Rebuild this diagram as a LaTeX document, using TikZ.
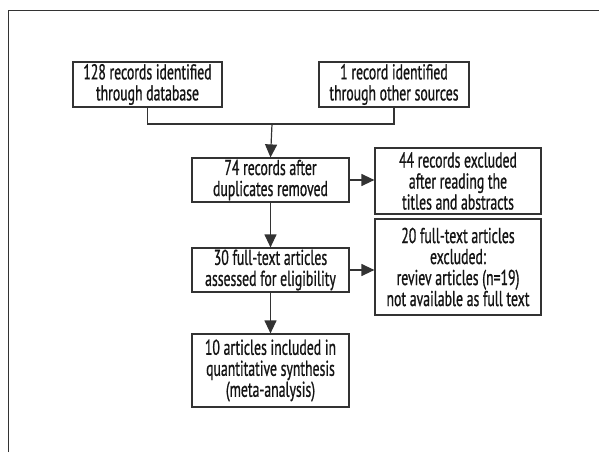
\documentclass[tikz,border=0pt]{standalone}
\usepackage{fontspec}
\setmainfont{PT Sans}[FakeStretch=0.64,FakeBold=0.8]
\definecolor{flowline}{RGB}{51,51,51}
\definecolor{flowtext}{RGB}{20,20,20}
\usetikzlibrary{arrows.meta,positioning}
\tikzset{
  stagebox/.style={draw=flowline, line width=1.2pt, align=center, inner sep=0pt,
    text=flowtext, font=\fontsize{21.5}{21}\selectfont},
  flowarrow/.style={-{Triangle[length=13pt,width=12pt]}, line width=1.2pt, flowline}
}

\begin{document}
\begin{tikzpicture}[x=1pt,y=-1pt]
  \useasboundingbox (0,0) rectangle (599,452);

  %--- page frame ---
  \draw[flowline, line width=1pt] (8,452) -- (8,11) -- (599,11);

  %--- identification ---
  \node[stagebox, minimum width=149pt, minimum height=45pt] (dbrec) at (147.5,84.5) {128 records identified\\through database};
  \node[stagebox, minimum width=150pt, minimum height=45pt] (otherrec) at (394,84.5) {1 record identified\\through other sources};
  \coordinate (merge) at (272,124);

  %--- screening ---
  \node[stagebox, minimum width=157pt, minimum height=44pt] (dedup) at (270.5,180) {74 records after\\duplicates removed};
  \node[stagebox, minimum width=166pt, minimum height=66pt] (excl1) at (458,181) {44 records excluded\\after reading the\\titles and abstracts};

  %--- eligibility ---
  \node[stagebox, minimum width=157pt, minimum height=44pt] (fulltext) at (270.5,270) {30 full-text articles\\assessed for eligibility};
  \node[stagebox, minimum width=166pt, minimum height=96pt] (excl2) at (458,267) {20 full-text articles\\excluded:\\reviev articles (n=19)\\not available as full text};

  %--- included ---
  \node[stagebox, minimum width=157pt, minimum height=73pt] (incl) at (270.5,370.5) {10 articles included in\\quantitative synthesis\\(meta-analysis)};

  \draw[flowline, line width=1.2pt] (dbrec.south) |- (merge) -| (otherrec.south);
  \draw[flowarrow] (merge) -- (dedup.north);
  \draw[flowarrow] (dedup.east) -- (excl1.west |- dedup.east);
  \draw[flowarrow] (dedup.south) -- (fulltext.north);
  \draw[flowarrow] (fulltext.east) -- (excl2.west |- fulltext.east);
  \draw[flowarrow] (fulltext.south) -- (incl.north);
\end{tikzpicture}
\end{document}
